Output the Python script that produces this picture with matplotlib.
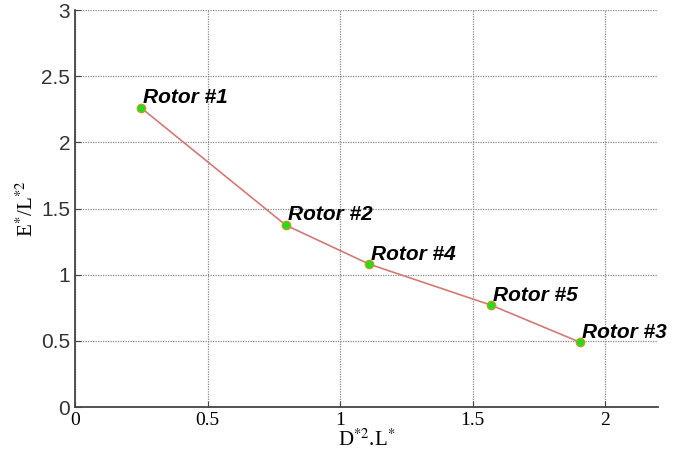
import matplotlib.pyplot as plt

# data
x_vals = [0.25, 0.795, 1.11, 1.57, 1.905]
y_vals = [2.26, 1.375, 1.08, 0.77, 0.49]
labels = ["Rotor #1", "Rotor #2", "Rotor #4", "Rotor #5", "Rotor #3"]
x_ticks = [0, 0.5, 1, 1.5, 2]
y_ticks = [0, 0.5, 1, 1.5, 2, 2.5, 3]

plt.rcParams["mathtext.fontset"] = "stix"

fig = plt.figure(figsize=(6.95, 4.61), dpi=100)
ax = fig.add_axes([0.108, 0.117, 0.839, 0.861])

ax.plot(x_vals, y_vals, color="#d07a78", lw=1.2, zorder=3)
ax.plot(x_vals, y_vals, "o", ms=6, mfc="#22dd22", mec="#b8a020", mew=1, ls="none", zorder=4)

for x, y, lab in zip(x_vals, y_vals, labels):
    ax.text(x + 0.008, y + 0.005, lab, fontsize=15, fontweight="bold", style="italic",
            family="Liberation Sans", va="bottom", ha="left", zorder=5)

ax.set_xlim(0, 2.2)
ax.set_ylim(0, 3)
ax.set_xticks(x_ticks)
ax.set_xticklabels(["0", "0.5", "1", "1.5", "2"], family="Liberation Serif", fontsize=14)
ax.set_yticks(y_ticks)
ax.set_yticklabels(["0", "0.5", "1", "1.5", "2", "2.5", "3"], family="Liberation Sans", fontsize=15, color="#333333")
ax.tick_params(direction="in", length=4, color="#444444")

ax.grid(True, ls=(0, (1, 1)), color="#888888", lw=0.9)
for side in ["top", "right"]:
    ax.spines[side].set_visible(False)
for side in ["left", "bottom"]:
    ax.spines[side].set_color("#444444")
    ax.spines[side].set_linewidth(1.3)

ax.set_xlabel("D$^{*2}$.L$^{*}$", family="Liberation Serif", fontsize=15, labelpad=0)
ax.set_ylabel("E$^{*}$/L$^{*2}$", family="Liberation Serif", fontsize=15, labelpad=2)

fig.savefig("out.png", dpi=100)
